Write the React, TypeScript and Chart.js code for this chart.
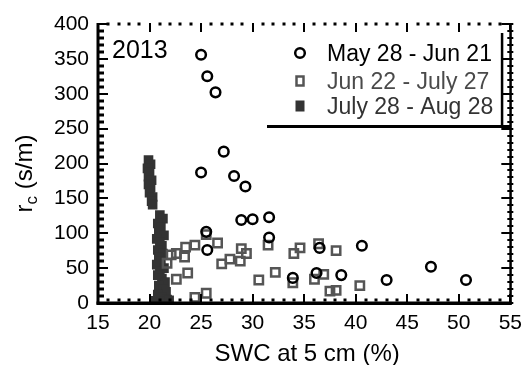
import React, { useEffect, useRef } from 'react';
import { Chart, registerables } from 'chart.js';

Chart.register(...registerables);

// ---- axis configuration ----
const xMin = 15;
const xMax = 55;
const xStep = 5;
const xMinorStep = 1;
const yMin = 0;
const yMax = 400;
const yStep = 50;
const yMinorStep = 10;

// ---- text ----
const yearLabel = '2013';
const xTitle = 'SWC at 5 cm (%)';
const yTitleMain = 'r';
const yTitleSub = 'c';
const yTitleRest = ' (s/m)';
const seriesLabels = ['May 28 - Jun 21', 'Jun 22 - July 27', 'July 28 - Aug 28'];

// ---- data ----
const mayX = [25.0, 25.6, 26.4, 27.2, 25.0, 28.2, 29.3, 28.9, 30.0, 31.6, 25.5, 25.6, 31.6, 33.9, 36.5, 40.6, 36.2, 38.6, 43.0, 47.3, 50.7];
const mayY = [356, 325, 302, 217, 187, 182, 167, 119, 120, 123, 102, 76, 94, 36, 79, 82, 43, 40, 33, 52, 33];

const junX = [21.7, 22.1, 22.6, 23.5, 23.4, 24.4, 22.6, 23.7, 25.5, 26.6, 27.0, 27.8, 28.9, 29.4, 28.8, 24.4, 25.5, 31.5, 30.6, 32.2, 34.0, 34.6, 33.9, 36.4, 36.0, 36.9, 38.1, 37.5, 38.1, 40.4];
const junY = [57, 69, 71, 80, 66, 83, 34, 43, 98, 86, 56, 63, 78, 71, 60, 8, 14, 83, 33, 44, 71, 79, 29, 85, 34, 41, 75, 17, 18, 25];

const julX = [19.9, 20.1, 19.8, 20.0, 19.9, 20.2, 19.9, 20.1, 20.0, 20.3, 20.2, 20.3,
  21.0, 21.3, 20.8, 21.1, 20.9, 21.4, 20.7, 21.0, 21.2, 20.8, 21.3, 20.9, 21.1, 20.7, 21.4, 21.0, 20.8, 21.2, 21.5, 20.9, 21.3, 21.6, 20.8, 21.2, 21.7, 20.6, 21.4, 21.9];
const julY = [205, 199, 193, 187, 181, 176, 170, 165, 158, 152, 146, 141,
  126, 121, 114, 108, 102, 97, 92, 87, 82, 76, 71, 65, 60, 55, 50, 45, 40, 35, 30, 25, 20, 16, 12, 8, 5, 3, 2, 4];

const toPoints = (xs: number[], ys: number[]) => xs.map((x, i) => ({ x, y: ys[i] }));

const fontFamily = '"Liberation Sans", Arial, Helvetica, sans-serif';
const grayColor = '#555555';
const darkColor = '#333333';

const framePlugin = {
  id: 'frame',
  afterDraw(chart: any) {
    const { ctx, chartArea, scales } = chart;
    const { left, right, top, bottom } = chartArea;
    const xs = scales.x;
    const ys = scales.y;
    ctx.save();
    ctx.fillStyle = '#000';
    // axis lines
    ctx.fillRect(left - 1.5, top - 1, 3, bottom - top + 2.5);
    ctx.fillRect(left - 1.5, bottom - 1.5, right - left + 3, 3.5);
    ctx.fillRect(right - 1, top - 1, 2.5, bottom - top + 1);
    // x ticks (top and bottom, inward)
    for (let v = xMin; v <= xMax; v += xMinorStep) {
      const px = Math.round(xs.getPixelForValue(v));
      if (v % xStep === 0) {
        ctx.fillRect(px - 1, top - 1, 2, 9);
        ctx.fillRect(px - 1, bottom - 9, 2, 9);
      } else {
        ctx.fillRect(px - 1.5, top - 1.5, 3, 3);
        ctx.fillRect(px - 1.5, bottom - 4.5, 3, 3);
      }
    }
    // y ticks (left inward, right crossing)
    for (let v = yMin; v <= yMax; v += yMinorStep) {
      const py = Math.round(ys.getPixelForValue(v));
      if (v % yStep === 0) {
        ctx.fillRect(left, py - 1, 10, 2);
        ctx.fillRect(right - 9, py - 1, 12, 2);
      } else {
        ctx.fillRect(left, py - 1.5, 6, 3);
        ctx.fillRect(right - 3, py - 1, 6, 2);
      }
    }

    // year label
    ctx.fillStyle = '#000';
    ctx.font = `25px ${fontFamily}`;
    ctx.textAlign = 'left';
    ctx.textBaseline = 'alphabetic';
    ctx.fillText(yearLabel, left + 14, top + 34);

    // legend
    const symX = left + 202;
    const textX = left + 229;
    const rowY = [top + 29, top + 57, top + 82];
    const textColors = ['#000', '#4a4a4a', darkColor];
    ctx.font = `23px ${fontFamily}`;
    ctx.textBaseline = 'middle';
    seriesLabels.forEach((label, i) => {
      const cy = rowY[i];
      if (i === 0) {
        ctx.strokeStyle = '#000';
        ctx.lineWidth = 2.5;
        ctx.beginPath();
        ctx.arc(symX, cy, 4.8, 0, Math.PI * 2);
        ctx.stroke();
      } else if (i === 1) {
        ctx.strokeStyle = grayColor;
        ctx.lineWidth = 2.5;
        ctx.strokeRect(symX - 3.5, cy - 4.5, 7, 9);
      } else {
        ctx.fillStyle = darkColor;
        ctx.fillRect(symX - 4.5, cy - 5.5, 9, 11);
      }
      ctx.fillStyle = textColors[i];
      ctx.fillText(label, textX, cy + 2);
    });
    // legend box remnants
    ctx.fillStyle = '#000';
    ctx.fillRect(left + 169, top + 101, right - left - 169, 3);
    ctx.fillRect(right - 9.5, top + 9, 2.5, 94);

    // axis titles
    ctx.fillStyle = '#000';
    ctx.textBaseline = 'alphabetic';
    ctx.textAlign = 'center';
    ctx.font = `24px ${fontFamily}`;
    ctx.fillText(xTitle, (left + right) / 2 + 3, 361);

    // y title with subscript
    const mainFont = `24px ${fontFamily}`;
    const subFont = `17px ${fontFamily}`;
    ctx.font = mainFont;
    const wMain = ctx.measureText(yTitleMain).width;
    const wRest = ctx.measureText(yTitleRest).width;
    ctx.font = subFont;
    const wSub = ctx.measureText(yTitleSub).width;
    const total = wMain + wSub + wRest;
    ctx.translate(32, (top + bottom) / 2 + 10);
    ctx.rotate(-Math.PI / 2);
    ctx.textAlign = 'left';
    let cx = -total / 2;
    ctx.font = mainFont;
    ctx.fillText(yTitleMain, cx, 0);
    cx += wMain;
    ctx.font = subFont;
    ctx.fillText(yTitleSub, cx, 5);
    cx += wSub;
    ctx.font = mainFont;
    ctx.fillText(yTitleRest, cx, 0);
    ctx.restore();
  },
};

export default function App() {
  const canvasRef = useRef<HTMLCanvasElement | null>(null);

  useEffect(() => {
    if (!canvasRef.current) return;
    const chart = new Chart(canvasRef.current, {
      type: 'scatter',
      data: {
        datasets: [
          {
            label: seriesLabels[0],
            data: toPoints(mayX, mayY),
            pointStyle: 'circle',
            radius: 4.8,
            borderWidth: 2.5,
            borderColor: '#000',
            backgroundColor: 'rgba(0,0,0,0)',
          },
          {
            label: seriesLabels[1],
            data: toPoints(junX, junY),
            pointStyle: 'rect',
            radius: 5.9,
            borderWidth: 2.5,
            borderColor: grayColor,
            backgroundColor: 'rgba(0,0,0,0)',
          },
          {
            label: seriesLabels[2],
            data: toPoints(julX, julY),
            pointStyle: 'rect',
            radius: 6.8,
            borderWidth: 0,
            borderColor: darkColor,
            backgroundColor: darkColor,
          },
        ],
      },
      options: {
        responsive: false,
        animation: false,
        events: [],
        layout: { padding: { top: 24, right: 16, left: 0, bottom: 0 } },
        plugins: {
          legend: { display: false },
          tooltip: { enabled: false },
        },
        scales: {
          x: {
            type: 'linear',
            min: xMin,
            max: xMax,
            grid: { display: false, drawTicks: false },
            border: { display: false },
            ticks: {
              stepSize: xStep,
              color: '#000',
              padding: 8,
              maxRotation: 0,
              font: { family: fontFamily, size: 21 },
            },
            afterFit: (s: any) => {
              s.height = 62;
            },
          },
          y: {
            type: 'linear',
            min: yMin,
            max: yMax,
            grid: { display: false, drawTicks: false },
            border: { display: false },
            ticks: {
              stepSize: yStep,
              color: '#000',
              padding: 9,
              font: { family: fontFamily, size: 21 },
            },
            afterFit: (s: any) => {
              s.width = 98;
            },
          },
        },
      },
      plugins: [framePlugin],
    });
    return () => chart.destroy();
  }, []);

  return (
    <div style={{ position: 'absolute', left: 0, top: 0, width: 530, height: 365, background: '#fff' }}>
      <canvas ref={canvasRef} width={530} height={365} />
    </div>
  );
}
